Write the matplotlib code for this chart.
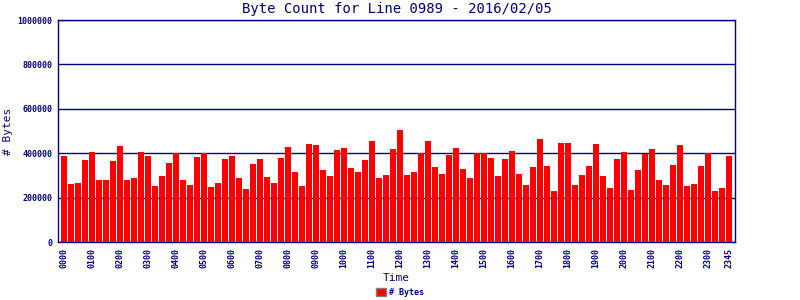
import numpy as np
import matplotlib.pyplot as plt

# byte counts per 15 minute slot (96 slots, 0000..2345)
byte_counts = [
    388000, 262000, 266000, 370000, 406000, 280000, 280000, 365000,
    433000, 280000, 289000, 406000, 388000, 253000, 298000, 356000,
    401000, 280000, 258000, 383000, 401000, 249000, 266000, 374000,
    388000, 289000, 240000, 352000, 374000, 293000, 266000, 379000,
    428000, 316000, 253000, 442000, 437000, 325000, 298000, 415000,
    424000, 334000, 316000, 370000, 455000, 289000, 302000, 419000,
    505000, 302000, 316000, 401000, 455000, 338000, 307000, 392000,
    424000, 329000, 289000, 401000, 401000, 379000, 298000, 374000,
    410000, 307000, 258000, 338000, 464000, 343000, 231000, 446000,
    446000, 258000, 302000, 343000, 442000, 298000, 244000, 374000,
    406000, 235000, 325000, 397000, 419000, 280000, 258000, 347000,
    437000, 253000, 262000, 343000, 401000, 231000, 244000, 388000,
]
tick_pos = list(range(0, 96, 4)) + [95]
tick_labels = ['%02d00' % h for h in range(24)] + ['2345']
y_ticks = [0, 200000, 400000, 600000, 800000, 1000000]

navy = '#000080'
mono = 'DejaVu Sans Mono'

fig = plt.figure(figsize=(8, 3), dpi=100)
ax = fig.add_axes([58/800, 58/300, 677/800, 222/300])

x = np.arange(len(byte_counts))
ax.bar(x, byte_counts, width=0.86, color='#ff0000', label='# Bytes', zorder=3)

ax.set_xlim(-0.86, 95.86)
ax.set_ylim(0, 1000000)
ax.set_yticks(y_ticks)
ax.set_yticklabels([str(v) for v in y_ticks], fontsize=6, family=mono,
                   fontweight='bold', color=navy)
ax.set_xticks(tick_pos)
ax.set_xticklabels(tick_labels, rotation=90, fontsize=6, family=mono,
                   fontweight='bold', color=navy)
ax.tick_params(axis='both', length=0, pad=4)
ax.grid(axis='y', color=navy, linewidth=1, zorder=1)
for s in ax.spines.values():
    s.set_color(navy)
    s.set_linewidth(1)

ax.set_title('Byte Count for Line 0989 - 2016/02/05', fontsize=10, family=mono,
             color=navy, pad=5)
ax.set_ylabel('# Bytes', fontsize=8, family=mono, color=navy, labelpad=3)
ax.set_xlabel('Time', fontsize=8, family=mono, color=navy, labelpad=4)

leg = fig.legend(loc='lower center', bbox_to_anchor=(0.5, -0.015), frameon=False,
                 prop={'family': mono, 'size': 6, 'weight': 'bold'},
                 handlelength=1.2, handleheight=1.0, handletextpad=0.3)
for t in leg.get_texts():
    t.set_color(navy)
for h in leg.legend_handles:
    h.set_edgecolor('#808080')

fig.savefig('out.png', dpi=100)
